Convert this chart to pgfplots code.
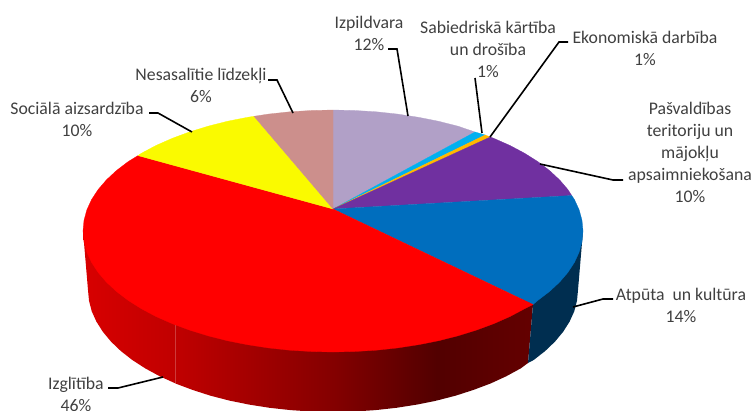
\documentclass[border=0pt]{standalone}
\usepackage{pgfplots}
\pgfplotsset{compat=1.18}
\usepackage{fontspec}
\setmainfont{Carlito}
\definecolor{cLav}{HTML}{B1A0C7}
\definecolor{cCyan}{HTML}{00B0F0}
\definecolor{cOrange}{HTML}{FFB800}
\definecolor{cPurple}{HTML}{7030A0}
\definecolor{cBlue}{HTML}{006EBE}
\definecolor{cRed}{HTML}{FF0000}
\definecolor{cYellow}{HTML}{FAFA00}
\definecolor{cRose}{HTML}{CC8F8C}
\definecolor{cDarkBlue}{HTML}{002E50}
\definecolor{txt}{HTML}{404040}
\definecolor{rA}{HTML}{D80000}
\definecolor{rB}{HTML}{C00000}
\definecolor{rC}{HTML}{840000}
\definecolor{rD}{HTML}{520000}
\definecolor{rE}{HTML}{640000}
\tikzset{lab/.style={font=\fontsize{13.3}{16.5}\selectfont, text=txt, align=center, inner sep=0pt}}
\begin{document}
\begin{tikzpicture}
\useasboundingbox (0,0) rectangle (566.25pt,307.5pt);
\begin{axis}[
  at={(0,0)}, anchor=south west,
  scale only axis, width=566.25pt, height=307.5pt,
  xmin=0, xmax=755, ymin=0, ymax=410, y dir=reverse,
  hide axis, clip=true,
  leader/.style={black, line width=1.2pt, no markers},
]
% side of the pie
\addplot[draw=none, left color=rA, right color=rB] coordinates {(83,231)(88,290)(89,300.6)(91.7,311.2)(96.4,321.6)(102.8,331.7)(111,341.6)(120.8,351)(132.3,360)(145.3,368.4)(159.8,376.3)(175.7,383.5)(175.7,231)} -- cycle;
\addplot[draw=none, left color=rB, right color=rC] coordinates {(175.5,300)(175.5,383.5)(192.5,389.9)(210.5,395.7)(229.5,400.6)(249.2,404.6)(269.6,407.8)(290.5,410.1)(311.6,411.5)(333.2,412)(333.2,300)} -- cycle;
\addplot[draw=none, left color=rC, right color=rD] coordinates {(333,300)(333,412)(354.4,411.5)(375.5,410.1)(396.4,407.8)(416.8,404.6)(436.7,400.6)(436.7,300)} -- cycle;
\addplot[draw=none, left color=rD, right color=rE] coordinates {(436.5,300)(436.5,400.6)(455.5,395.7)(473.5,389.9)(490.5,383.5)(506.2,376.3)(520.7,368.4)(528,363)(533,304.5)(533,300)} -- cycle;
\addplot[draw=none, fill=cDarkBlue] coordinates {(533,304.5)(528,363)(533.7,360)(545.2,351)(555,341.6)(563.2,331.7)(569.6,321.6)(574.3,311.2)(577,300.6)(578,290)(583,231)(533,231)} -- cycle;
% top of the pie
\addplot[draw=cLav, line width=0.2pt, fill=cLav] coordinates {(333,209)(333,110)(354.8,110.5)(376.4,111.8)(397.7,114.1)(418.5,117.3)(438.7,121.3)(458,126.2)(475,132)} -- cycle;
\addplot[draw=cCyan, line width=0.2pt, fill=cCyan] coordinates {(333,209)(475,132)(485.2,135)} -- cycle;
\addplot[draw=cOrange, line width=0.2pt, fill=cOrange] coordinates {(333,209)(485.2,135)(490.3,137)} -- cycle;
\addplot[draw=cPurple, line width=0.2pt, fill=cPurple] coordinates {(333,209)(490.3,137)(493.7,138.3)(509.8,145.4)(524.5,153.2)(537.8,161.6)(549.5,170.5)(559.6,179.9)(567.9,189.6)(571.7,195.5)} -- cycle;
\addplot[draw=cBlue, line width=0.2pt, fill=cBlue] coordinates {(333,209)(571.7,195.5)(574.5,199.7)(579.2,210)(582,220.4)(583,231)(582,241.6)(579.2,252)(574.5,262.3)(567.9,272.4)(559.6,282.1)(549.5,291.5)(537.8,300.4)(533,304.5)} -- cycle;
\addplot[draw=cRed, line width=0.2pt, fill=cRed] coordinates {(333,209)(533,304.5)(524.5,308.8)(509.8,316.6)(493.7,323.7)(476.4,330.1)(458,335.8)(438.7,340.7)(418.5,344.7)(397.7,347.9)(376.4,350.2)(354.8,351.5)(333,352)(311.2,351.5)(289.6,350.2)(268.3,347.9)(247.5,344.7)(227.3,340.7)(208,335.8)(189.6,330.1)(172.3,323.7)(156.2,316.6)(141.5,308.8)(128.2,300.4)(116.5,291.5)(106.4,282.1)(98.1,272.4)(91.5,262.3)(86.8,252)(84,241.6)(83,231)(84,220.4)(86.8,210)(91.5,199.7)(98.1,189.6)(106.4,179.9)(116.5,170.5)(128.2,161.6)(138,155.6)} -- cycle;
\addplot[draw=cYellow, line width=0.2pt, fill=cYellow] coordinates {(333,209)(138,155.6)(141.5,153.2)(156.2,145.4)(172.3,138.3)(189.6,131.9)(208,126.2)(227.3,121.3)(247.5,117.3)(254,116.3)} -- cycle;
\addplot[draw=cRose, line width=0.2pt, fill=cRose] coordinates {(333,209)(254,116.3)(268.3,114.1)(289.6,111.8)(311.2,110.5)(333,110)} -- cycle;
% leader lines
\addplot[leader] coordinates {(388,49)(397,49)(408,116)};
\addplot[leader] coordinates {(475,78)(482,133)};
\addplot[leader] coordinates {(568,42)(559,42)(490,137)};
\addplot[leader] coordinates {(540,164)(613,180)(623,180)};
\addplot[leader] coordinates {(573,307)(603,299)(613,299)};
\addplot[leader] coordinates {(163,377)(118,388)(108,388)};
\addplot[leader] coordinates {(192,132)(158,113)(149,113)};
\addplot[leader] coordinates {(293,113)(277,80)(268,80)};
% labels
\node[lab] at (axis cs:369,33) {Izpildvara\\12\%};
\node[lab] at (axis cs:488,49) {Sabiedriskā kārtība\\un drošība\\1\%};
\node[lab] at (axis cs:645,48) {Ekonomiskā darbība\\1\%};
\node[lab] at (axis cs:690,152) {Pašvaldības\\teritoriju un\\mājokļu\\apsaimniekošana\\10\%};
\node[lab] at (axis cs:681,305) {Atpūta\ \ un kultūra\\14\%};
\node[lab] at (axis cs:76,394) {Izglītība\\46\%};
\node[lab] at (axis cs:77,119) {Sociālā aizsardzība\\10\%};
\node[lab] at (axis cs:201,85) {Nesasalītie līdzekļi\\6\%};
\end{axis}
\end{tikzpicture}
\end{document}
